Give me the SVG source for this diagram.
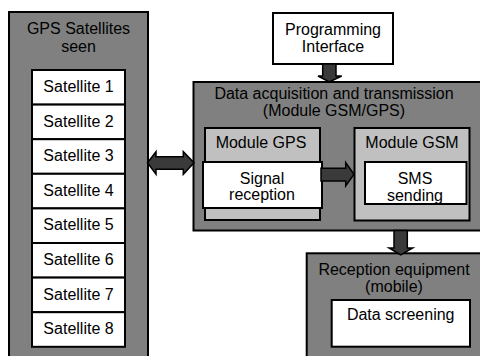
<svg xmlns="http://www.w3.org/2000/svg" width="480" height="356" viewBox="0 0 480 356">
<defs>
<style>
text{font-family:"Liberation Sans",Arial,sans-serif;font-size:16px;fill:#000;text-anchor:middle}
.dark{fill:#808080;stroke:#000;stroke-width:2}
.light{fill:#c0c0c0;stroke:#000;stroke-width:2}
.white{fill:#fff;stroke:#000;stroke-width:2}
.arrow{fill:#3a3a3a;stroke:#000;stroke-width:1.5;stroke-linejoin:miter}
</style>
<clipPath id="smsclip"><rect x="365" y="162" width="101.5" height="41"/></clipPath>
</defs>
<rect width="480" height="356" fill="#fff"/>
<g id="gps-satellites">
<rect class="dark" x="9" y="12" width="139" height="352"/>
<text x="78.5" y="34">GPS Satellites</text>
<text x="78.5" y="52">seen</text>
</g>
<g id="sat1"><rect class="white" x="32" y="70" width="93" height="34.6"/><text x="78.5" y="92">Satellite 1</text></g>
<g id="sat2"><rect class="white" x="32" y="104.6" width="93" height="34.6"/><text x="78.5" y="126.6">Satellite 2</text></g>
<g id="sat3"><rect class="white" x="32" y="139.2" width="93" height="34.6"/><text x="78.5" y="161.2">Satellite 3</text></g>
<g id="sat4"><rect class="white" x="32" y="173.8" width="93" height="34.6"/><text x="78.5" y="195.8">Satellite 4</text></g>
<g id="sat5"><rect class="white" x="32" y="208.4" width="93" height="34.6"/><text x="78.5" y="230.4">Satellite 5</text></g>
<g id="sat6"><rect class="white" x="32" y="243" width="93" height="34.6"/><text x="78.5" y="265">Satellite 6</text></g>
<g id="sat7"><rect class="white" x="32" y="277.6" width="93" height="34.6"/><text x="78.5" y="299.6">Satellite 7</text></g>
<g id="sat8"><rect class="white" x="32" y="312.2" width="93" height="34.6"/><text x="78.5" y="334.2">Satellite 8</text></g>
<g id="programming-interface">
<rect class="white" x="273" y="13" width="120" height="51"/>
<text x="333" y="34.5">Programming</text>
<text x="333" y="51.5">Interface</text>
</g>
<g id="data-acquisition">
<rect class="dark" x="193.5" y="82" width="300" height="148.5"/>
<text x="334" y="99">Data acquisition and transmission</text>
<text x="334" y="116">(Module GSM/GPS)</text>
</g>
<g id="module-gps">
<rect class="light" x="205" y="128" width="115" height="92"/>
<text x="261" y="148">Module GPS</text>
</g>
<g id="signal-reception">
<rect class="white" x="203" y="162" width="119" height="46"/>
<text x="262" y="184">Signal</text>
<text x="262" y="200">reception</text>
</g>
<g id="module-gsm">
<rect class="light" x="354.5" y="128" width="115" height="92.5"/>
<text x="412" y="148">Module GSM</text>
</g>
<g id="sms-sending">
<rect class="white" x="365" y="162" width="101.5" height="42"/>
<text x="415" y="184">SMS</text>
<text x="415" y="200.5" clip-path="url(#smsclip)">sending</text>
</g>
<g id="reception-equipment">
<rect class="dark" x="306.7" y="253.3" width="180" height="110"/>
<text x="394" y="275">Reception equipment</text>
<text x="394" y="291.5">(mobile)</text>
</g>
<g id="data-screening">
<rect class="white" x="331.7" y="300" width="138.3" height="46.7"/>
<text x="400.7" y="320">Data screening</text>
</g>
<g id="connectors">
<polygon class="arrow" points="147.5,162.7 156,151.7 156,156.7 183.3,156.7 183.3,151.7 194,162.7 183.3,174.3 183.3,169.3 156,169.3 156,174.3"/>
<polygon class="arrow" points="322.7,64 336,64 336,76 341.7,76 329.3,82 318,76 322.7,76"/>
<polygon class="arrow" points="321,168.3 345.7,168.3 345.7,162.7 354,174.3 345.7,186 345.7,181 321,181"/>
<polygon class="arrow" points="394,230.5 407.3,230.5 407.3,248 412.7,248 400.7,255 389,248 394,248"/>
</g>
</svg>
